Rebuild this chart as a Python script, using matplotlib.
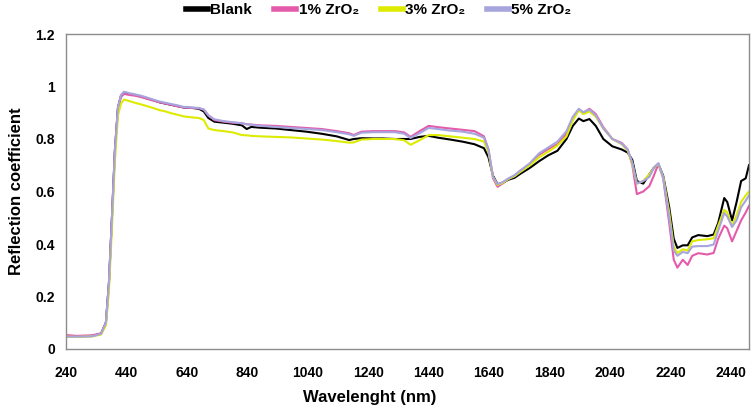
import matplotlib
matplotlib.use("Agg")
import matplotlib.pyplot as plt

plt.rcParams['font.family'] = ['Liberation Sans', 'DejaVu Sans']

wavelength = [240, 275, 326, 356, 372, 382, 392, 402, 412, 422, 432, 448, 468, 488, 508, 529, 549, 569, 589, 610,
              630, 660, 680, 696, 711, 731, 762, 792, 822, 838, 853, 883, 934, 984, 1035, 1086, 1136, 1177, 1192, 1218,
              1258, 1288, 1329, 1359, 1380, 1410, 1440, 1471, 1511, 1552, 1592, 1623, 1638, 1653, 1668, 1684, 1704, 1724, 1744, 1775,
              1805, 1836, 1866, 1896, 1917, 1937, 1952, 1972, 1993, 2018, 2048, 2079, 2099, 2114, 2129, 2150, 2170, 2185, 2200, 2216,
              2236, 2251, 2263, 2281, 2297, 2312, 2332, 2362, 2383, 2398, 2418, 2428, 2444, 2459, 2474, 2489, 2500]

blank = [0.050, 0.048, 0.050, 0.058, 0.10, 0.25, 0.50, 0.76, 0.92, 0.965, 0.978, 0.972, 0.968, 0.962, 0.955, 0.948, 0.940, 0.935, 0.930,
         0.925, 0.920, 0.918, 0.915, 0.905, 0.880, 0.866, 0.862, 0.858, 0.852, 0.838, 0.846, 0.843, 0.840, 0.834, 0.828, 0.820, 0.810, 0.796, 0.800,
         0.803, 0.802, 0.802, 0.800, 0.800, 0.800, 0.808, 0.812, 0.805, 0.798, 0.790, 0.780, 0.765, 0.730, 0.660, 0.628, 0.632, 0.645, 0.652, 0.668,
         0.690, 0.715, 0.738, 0.755, 0.800, 0.850, 0.878, 0.868, 0.876, 0.850, 0.800, 0.772, 0.760, 0.748, 0.720, 0.640, 0.630, 0.665, 0.690, 0.705,
         0.660, 0.540, 0.420, 0.385, 0.395, 0.395, 0.425, 0.434, 0.430, 0.436, 0.480, 0.575, 0.560, 0.490, 0.560, 0.640, 0.650, 0.700]

zro2_1 = [0.053, 0.050, 0.052, 0.060, 0.10, 0.25, 0.50, 0.76, 0.92, 0.960, 0.972, 0.968, 0.965, 0.960, 0.953, 0.946, 0.940, 0.935, 0.930,
          0.924, 0.920, 0.918, 0.917, 0.912, 0.890, 0.872, 0.866, 0.862, 0.860, 0.856, 0.855, 0.852, 0.850, 0.846, 0.842, 0.838, 0.830, 0.822, 0.815,
          0.828, 0.830, 0.830, 0.830, 0.825, 0.808, 0.830, 0.850, 0.845, 0.840, 0.835, 0.830, 0.810, 0.760, 0.650, 0.618, 0.630, 0.648, 0.660, 0.680,
          0.705, 0.740, 0.762, 0.780, 0.820, 0.880, 0.912, 0.900, 0.915, 0.895, 0.845, 0.800, 0.785, 0.760, 0.700, 0.590, 0.600, 0.620, 0.660, 0.705,
          0.650, 0.480, 0.340, 0.310, 0.340, 0.320, 0.355, 0.365, 0.360, 0.366, 0.420, 0.470, 0.460, 0.410, 0.450, 0.490, 0.520, 0.545]

zro2_3 = [0.047, 0.046, 0.048, 0.055, 0.09, 0.22, 0.46, 0.72, 0.89, 0.935, 0.950, 0.945, 0.938, 0.932, 0.925, 0.918, 0.910, 0.905, 0.898,
          0.892, 0.886, 0.882, 0.880, 0.872, 0.840, 0.834, 0.830, 0.825, 0.815, 0.814, 0.812, 0.810, 0.808, 0.806, 0.802, 0.798, 0.792, 0.786, 0.787,
          0.798, 0.800, 0.800, 0.800, 0.795, 0.778, 0.795, 0.815, 0.815, 0.810, 0.805, 0.800, 0.790, 0.750, 0.655, 0.625, 0.632, 0.648, 0.658, 0.675,
          0.700, 0.730, 0.752, 0.775, 0.810, 0.870, 0.910, 0.895, 0.905, 0.885, 0.840, 0.800, 0.780, 0.755, 0.705, 0.630, 0.640, 0.665, 0.690, 0.705,
          0.655, 0.520, 0.390, 0.365, 0.380, 0.375, 0.410, 0.415, 0.418, 0.422, 0.470, 0.530, 0.520, 0.470, 0.510, 0.560, 0.585, 0.600]

zro2_5 = [0.047, 0.047, 0.048, 0.058, 0.10, 0.25, 0.50, 0.76, 0.92, 0.968, 0.980, 0.975, 0.970, 0.965, 0.958, 0.950, 0.943, 0.938, 0.933,
          0.928, 0.922, 0.920, 0.918, 0.912, 0.890, 0.875, 0.868, 0.864, 0.860, 0.856, 0.854, 0.850, 0.846, 0.842, 0.838, 0.834, 0.826, 0.818, 0.812,
          0.824, 0.826, 0.826, 0.826, 0.820, 0.804, 0.822, 0.842, 0.838, 0.832, 0.828, 0.820, 0.805, 0.760, 0.655, 0.628, 0.635, 0.650, 0.662, 0.680,
          0.708, 0.745, 0.768, 0.790, 0.830, 0.885, 0.915, 0.902, 0.912, 0.890, 0.840, 0.800, 0.782, 0.758, 0.710, 0.630, 0.640, 0.655, 0.690, 0.708,
          0.655, 0.500, 0.375, 0.355, 0.370, 0.365, 0.390, 0.392, 0.392, 0.398, 0.450, 0.518, 0.505, 0.465, 0.490, 0.540, 0.565, 0.585]

labels = ['Blank', '1% ZrO₂', '3% ZrO₂', '5% ZrO₂']
colors = ['#000000', '#E35BAA', '#DCEB00', '#A7A5DE']
series = [blank, zro2_1, zro2_3, zro2_5]

xticks = [240, 440, 640, 840, 1040, 1240, 1440, 1640, 1840, 2040, 2240, 2440]
yticks = [0, 0.2, 0.4, 0.6, 0.8, 1, 1.2]
ytick_labels = ['0', '0.2', '0.4', '0.6', '0.8', '1', '1.2']

fig = plt.figure(figsize=(7.51, 4.13), dpi=100)
ax = fig.add_axes([66 / 751, 64 / 413, 683 / 751, 315 / 413])

for vals, c, lab in zip(series, colors, labels):
    ax.plot(wavelength, vals, color=c, lw=1.5, label=lab)

ax.set_xlim(240, 2500)
ax.set_ylim(0, 1.2)
ax.set_xticks(xticks)
ax.set_xticklabels([str(t) for t in xticks])
ax.set_yticks(yticks)
ax.set_yticklabels(ytick_labels)
ax.tick_params(length=0, labelsize=10)
ax.tick_params(axis='x', pad=12)
ax.tick_params(axis='y', pad=8)
for lab in ax.get_xticklabels() + ax.get_yticklabels():
    lab.set_fontweight('bold')
for s in ax.spines.values():
    s.set_color('#8c8c8c')
    s.set_linewidth(1.0)

ax.set_xlabel('Wavelenght (nm)', fontsize=12, fontweight='bold')
ax.xaxis.set_label_coords(0.445, -0.130)
ax.set_ylabel('Reflection coefficient', fontsize=12, fontweight='bold')
ax.yaxis.set_label_coords(-0.062, 0.5)

leg = ax.legend(loc='center', bbox_to_anchor=(0.458, 1.076), ncol=4, frameon=False,
                handlelength=1.44, handletextpad=0.15, columnspacing=1.44,
                prop={'weight': 'bold', 'size': 11})
for h in leg.get_lines():
    h.set_linewidth(4.0)

fig.savefig('out.png', dpi=100)
